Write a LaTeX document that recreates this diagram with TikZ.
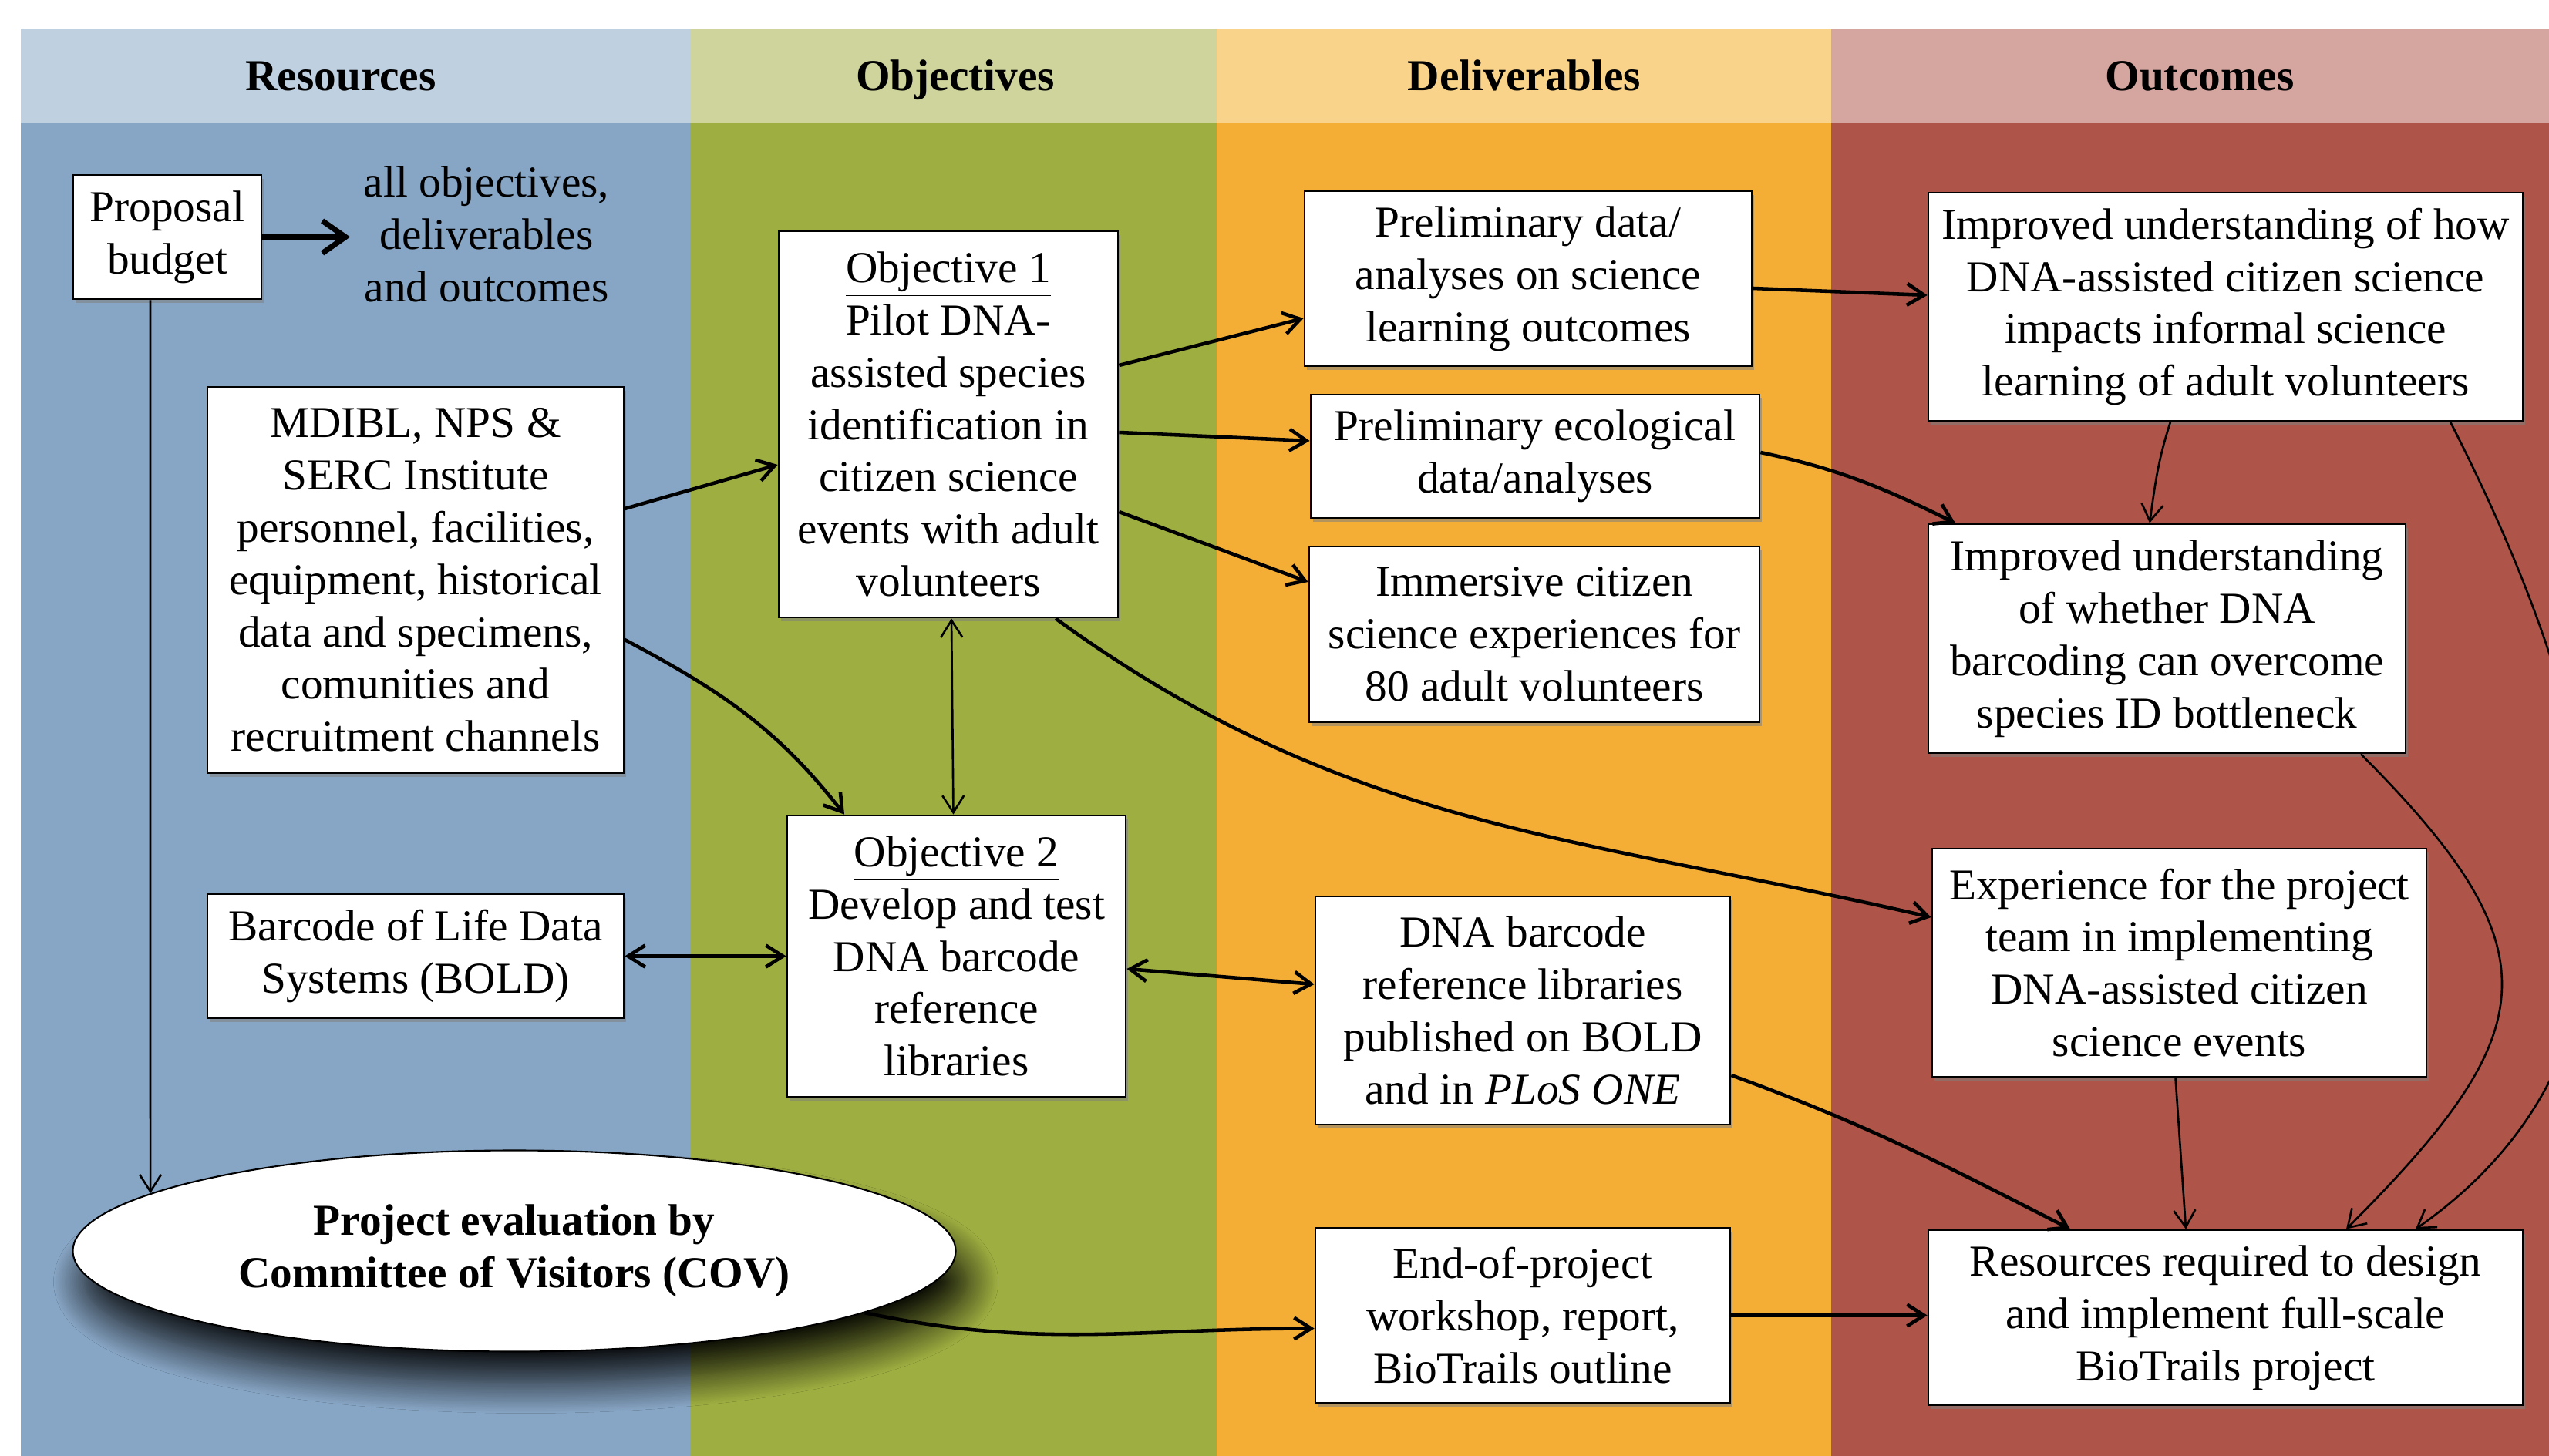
\documentclass[tikz,border=0pt]{standalone}
\usepackage{fontspec}
\setmainfont{Liberation Serif}
\usepackage{tikz}
\usetikzlibrary{arrows.meta, positioning, shapes.geometric, shadows, shadows.blur}
\usepackage{xcolor}

\definecolor{resHead}{HTML}{BFD0E0}
\definecolor{resBody}{HTML}{87A5C4}
\definecolor{objHead}{HTML}{CFD49C}
\definecolor{objBody}{HTML}{9FAE41}
\definecolor{delHead}{HTML}{F9D38A}
\definecolor{delBody}{HTML}{F5AE35}
\definecolor{outHead}{HTML}{D5A5A0}
\definecolor{outBody}{HTML}{AE5448}

\newcommand{\diagfont}{\fontsize{16.3}{19.3}\selectfont}

\begin{document}
\begin{tikzpicture}[
  every node/.style={font=\diagfont},
  head/.style={font=\diagfont\bfseries, anchor=base},
  box/.style={draw, fill=white, line width=0.8pt, align=center, inner sep=0pt,
    drop shadow={shadow xshift=0.3mm, shadow yshift=-0.5mm, opacity=0.55}},
  link/.style={-{Straight Barb[length=2.2mm, width=2.8mm]}, line width=1.3pt},
  thinlink/.style={link, line width=0.75pt},
  duallink/.style={{Straight Barb[length=2.2mm, width=2.8mm]}-{Straight Barb[length=2.2mm, width=2.8mm]}, line width=1.3pt},
  thinduallink/.style={duallink, line width=0.75pt},
  biglink/.style={-{Straight Barb[length=3mm, width=4.2mm]}, line width=2pt},
]
\clip (0,0) rectangle (33.06,-18.89);

% Columns
\foreach \xa/\xb/\hc/\bc in {0.27/8.95/resHead/resBody, 8.95/15.78/objHead/objBody,
    15.78/23.75/delHead/delBody, 23.75/33.06/outHead/outBody} {
  \fill[\hc] (\xa,-0.37) rectangle (\xb,-1.59);
  \fill[\bc] (\xa,-1.59) rectangle (\xb,-18.89);
}
\node[head] (tres) at (4.42,-1.18) {Resources};
\node[head] (tobj) at (12.39,-1.18) {Objectives};
\node[head] (tdel) at (19.77,-1.18) {Deliverables};
\node[head] (tout) at (28.53,-1.18) {Outcomes};

% Resources
\node[box, minimum width=2.44cm, minimum height=1.61cm] (budget) at (2.17,-3.075) {Proposal\\budget};
\node[align=center, inner sep=1.7mm] (allobj) at (6.31,-3.04) {all objectives,\\deliverables\\and outcomes};
\node[box, minimum width=5.40cm, minimum height=5.01cm] (mdibl) at (5.39,-7.525)
  {MDIBL, NPS \&\\SERC Institute\\personnel, facilities,\\equipment, historical\\data and specimens,\\comunities and\\recruitment channels};
\node[box, minimum width=5.40cm, minimum height=1.61cm] (bold) at (5.39,-12.405) {Barcode of Life Data\\Systems (BOLD)};
\node[ellipse, draw, fill=white, line width=0.6pt, align=center, inner sep=0pt,
  minimum width=11.45cm, minimum height=2.61cm, font=\diagfont\bfseries,
  blur shadow={shadow xshift=1.5mm, shadow yshift=-4mm, shadow blur radius=4mm,
    shadow blur steps=25, shadow opacity=90}]
  (cov) at (6.67,-16.23) {Project evaluation by\\Committee of Visitors (COV)};

% Objectives
\node[box, minimum width=4.40cm, minimum height=5.01cm] (obj1) at (12.30,-5.505)
  {\underline{Objective 1}\\Pilot DNA-\\assisted species\\identification in\\citizen science\\events with adult\\volunteers};
\node[box, minimum width=4.39cm, minimum height=3.65cm] (obj2) at (12.405,-12.405)
  {\underline{Objective 2}\\Develop and test\\DNA barcode\\reference\\libraries};

% Deliverables
\node[box, minimum width=5.80cm, minimum height=2.27cm] (pdata) at (19.82,-3.615) {Preliminary data/\\analyses on science\\learning outcomes};
\node[box, minimum width=5.82cm, minimum height=1.60cm] (peco) at (19.91,-5.92) {Preliminary ecological\\data/analyses};
\node[box, minimum width=5.84cm, minimum height=2.28cm] (immers) at (19.90,-8.23) {Immersive citizen\\science experiences for\\80 adult volunteers};
\node[box, minimum width=5.38cm, minimum height=2.96cm] (dnalib) at (19.75,-13.11) {DNA barcode\\reference libraries\\published on BOLD\\and in \textit{PLoS ONE}};
\node[box, minimum width=5.38cm, minimum height=2.27cm] (endproj) at (19.75,-17.065) {End-of-project\\workshop, report,\\BioTrails outline};

% Outcomes
\node[box, minimum width=7.71cm, minimum height=2.96cm] (how) at (28.865,-3.98)
  {Improved understanding of how\\DNA-assisted citizen science\\impacts informal science\\learning of adult volunteers};
\node[box, minimum width=6.19cm, minimum height=2.97cm] (whether) at (28.105,-8.285)
  {Improved understanding\\of whether DNA\\barcoding can overcome\\species ID bottleneck};
\node[box, minimum width=6.41cm, minimum height=2.96cm] (exper) at (28.265,-12.49)
  {Experience for the project\\team in implementing\\DNA-assisted citizen\\science events};
\node[box, minimum width=7.71cm, minimum height=2.27cm] (resreq) at (28.865,-17.095)
  {Resources required to design\\and implement full-scale\\BioTrails project};

% Connectors from resources
\draw[biglink] (budget.east) -- (budget.east -| allobj.west);
\draw[thinlink] ([xshift=-2.2mm]budget.south) -- (cov.171);
\draw[link] ([yshift=9.25mm]mdibl.east) -- ([yshift=-5.25mm]obj1.west);
\draw[link] ([yshift=-7.75mm]mdibl.east) to[out=-28, in=128] ([xshift=-14.55mm]obj2.north);
\draw[duallink] (bold.east) -- (obj2.west);
\draw[link] (cov.350) to[out=-12, in=180] ([yshift=-1.7mm]endproj.west);

% Connectors from objectives
\draw[thinduallink] ([xshift=0.4mm]obj1.south) -- ([xshift=-0.4mm]obj2.north);
\draw[link] ([yshift=7.65mm]obj1.east) -- ([yshift=-5.15mm]pdata.west);
\draw[link] ([yshift=-1.05mm]obj1.east) -- ([yshift=2mm]peco.west);
\draw[link] ([yshift=-11.35mm]obj1.east) -- ([yshift=6.8mm]immers.west);
\draw[link] ([xshift=13.9mm]obj1.south) to[out=-36, in=167] ([yshift=5.9mm]exper.west);
\draw[duallink] ([yshift=-1.65mm]obj2.east) -- ([yshift=3.4mm]dnalib.west);

% Connectors from deliverables
\draw[link] ([yshift=-1.25mm]pdata.east) -- ([yshift=1.5mm]how.west);
\draw[link] ([yshift=0.5mm]peco.east) to[out=-12, in=154] ([xshift=-27.45mm]whether.north);
\draw[link] ([yshift=-8.4mm]dnalib.east) to[out=-20, in=153] ([xshift=-20.15mm]resreq.north);
\draw[link] (endproj.east) -- (endproj.east -| resreq.west);

% Connectors between outcomes
\draw[thinlink] ([xshift=-7.15mm]how.south) to[out=-108, in=82] ([xshift=-2.25mm]whether.north);
\draw[thinlink] ([xshift=29.15mm]how.south) to[out=-63, in=35, looseness=1.05] ([xshift=24.65mm]resreq.north);
\draw[thinlink] ([xshift=25.15mm]whether.south) to[out=-45, in=45, looseness=1.5] ([xshift=15.65mm]resreq.north);
\draw[thinlink] ([xshift=-0.5mm]exper.south) -- ([xshift=-5.15mm]resreq.north);
\end{tikzpicture}
\end{document}
